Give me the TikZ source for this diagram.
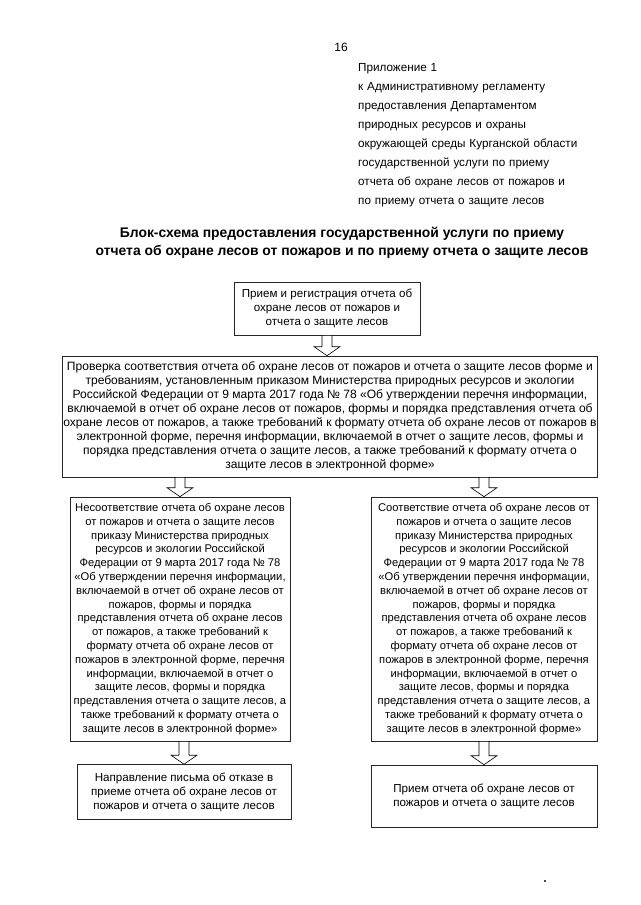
\documentclass[tikz,border=0pt]{standalone}
\usepackage{fontspec}
\setmainfont{Liberation Sans}
\usetikzlibrary{calc}
\begin{document}
\begin{tikzpicture}[x=1pt,y=-1pt,
  box/.style={draw=black!85, line width=0.6pt, align=center, inner sep=1pt,
    font=\fontsize{11.6}{14}\selectfont},
  sidebox/.style={box, font=\fontsize{11.2}{13.8}\selectfont},
  plain/.style={inner sep=0pt, font=\fontsize{12}{16.6}\selectfont},
  hollow/.style={draw=black, line width=0.6pt, fill=white,
    to path={let \p1=(\tikztostart), \p2=(\tikztotarget) in
      (\x1-5pt,\y1) -- (\x1+5pt,\y1) -- (\x1+5pt,\y2+9pt) -- (\x1+13pt,\y2+9pt)
      -- (\x1,\y2) -- (\x1-13pt,\y2+9pt) -- (\x1-5pt,\y2+9pt) -- cycle}}]
\fill[white] (0,0) rectangle (640,905);
\useasboundingbox (0,0) rectangle (640,905);

\node[plain, anchor=base] (pg) at (341,51) {16};
\node[plain, anchor=base west, align=left, text width=260pt,
      font=\fontsize{11.7}{19}\selectfont] (app) at (358,71)
 {Приложение 1\\
  к Административному регламенту\\
  предоставления Департаментом\\
  природных ресурсов и охраны\\
  окружающей среды Курганской области\\
  государственной услуги по приему\\
  отчета об охране лесов от пожаров и\\
  по приему отчета о защите лесов};

\node[plain, anchor=base, align=center, font=\bfseries\fontsize{13.9}{18}\selectfont] (title) at (342,255)
 {Блок-схема предоставления государственной услуги по приему\\
  отчета об охране лесов от пожаров и по приему отчета о защите лесов};

\node[box, minimum width=186pt, minimum height=53pt] (top) at (327,308.5)
 {Прием и регистрация отчета об\\охране лесов от пожаров и\\отчета о защите лесов};

\node[box, minimum width=534pt, minimum height=121pt, font=\fontsize{12.05}{14}\selectfont] (big) at (330,416.5)
 {Проверка соответствия отчета об охране лесов от пожаров и отчета о защите лесов форме и\\
  требованиям, установленным приказом Министерства природных ресурсов и экологии\\
  Российской Федерации от 9 марта 2017 года № 78 «Об утверждении перечня информации,\\
  включаемой в отчет об охране лесов от пожаров, формы и порядка представления отчета об\\
  охране лесов от пожаров, а также требований к формату отчета об охране лесов от пожаров в\\
  электронной форме, перечня информации, включаемой в отчет о защите лесов, формы и\\
  порядка представления отчета о защите лесов, а также требований к формату отчета о\\
  защите лесов в электронной форме»};

\node[sidebox, minimum width=220pt, minimum height=244pt] (left) at (180,619)
 {Несоответствие отчета об охране лесов\\
  от пожаров и отчета о защите лесов\\
  приказу Министерства природных\\
  ресурсов и экологии Российской\\
  Федерации от 9 марта 2017 года № 78\\
  «Об утверждении перечня информации,\\
  включаемой в отчет об охране лесов от\\
  пожаров, формы и порядка\\
  представления отчета об охране лесов\\
  от пожаров, а также требований к\\
  формату отчета об охране лесов от\\
  пожаров в электронной форме, перечня\\
  информации, включаемой в отчет о\\
  защите лесов, формы и порядка\\
  представления отчета о защите лесов, а\\
  также требований к формату отчета о\\
  защите лесов в электронной форме»};

\node[sidebox, minimum width=226pt, minimum height=244pt] (right) at (484,619)
 {Соответствие отчета об охране лесов от\\
  пожаров и отчета о защите лесов\\
  приказу Министерства природных\\
  ресурсов и экологии Российской\\
  Федерации от 9 марта 2017 года № 78\\
  «Об утверждении перечня информации,\\
  включаемой в отчет об охране лесов от\\
  пожаров, формы и порядка\\
  представления отчета об охране лесов\\
  от пожаров, а также требований к\\
  формату отчета об охране лесов от\\
  пожаров в электронной форме, перечня\\
  информации, включаемой в отчет о\\
  защите лесов, формы и порядка\\
  представления отчета о защите лесов, а\\
  также требований к формату отчета о\\
  защите лесов в электронной форме»};

\node[box, minimum width=214pt, minimum height=55pt] (bl) at (184,792)
 {Направление письма об отказе в\\
  приеме отчета об охране лесов от\\
  пожаров и отчета о защите лесов};

\node[box, minimum width=226pt, minimum height=62pt] (br) at (484,796)
 {Прием отчета об охране лесов от\\
  пожаров и отчета о защите лесов};

\draw[hollow] (top.south) to (big.north -| top.south);
\draw[hollow] (big.south -| left.north) to (left.north);
\draw[hollow] (big.south -| right.north) to (right.north);
\draw[hollow] (left.south -| bl.north) to (bl.north);
\draw[hollow] (right.south -| br.north) to (br.north);

\fill[black!70] (544,880) rectangle (545.5,881.5);
\end{tikzpicture}
\end{document}
